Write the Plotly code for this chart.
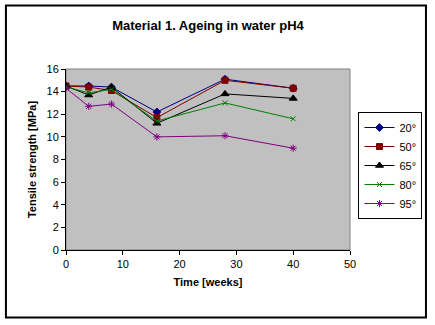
import plotly.graph_objects as go

weeks = [0, 4, 8, 16, 28, 40]
s20 = [14.5, 14.5, 14.4, 12.2, 15.1, 14.3]
s50 = [14.5, 14.4, 14.1, 11.7, 15.0, 14.3]
s65 = [14.5, 13.7, 14.4, 11.2, 13.8, 13.4]
s80 = [14.4, 13.9, 14.2, 11.4, 13.0, 11.6]
s95 = [14.3, 12.7, 12.9, 10.0, 10.1, 9.0]

names = ["20°", "50°", "65°", "80°", "95°"]
series = [s20, s50, s65, s80, s95]
colors = ["#000080", "#800000", "#000000", "#008000", "#800080"]
symbols = ["diamond", "square", "triangle-up", "x-thin-open", "asterisk-open"]
msizes = [6, 6, 7, 5, 6]

FONT = "Arial, Liberation Sans, sans-serif"

fig = go.Figure()
for n, ys, c, s, ms in zip(names, series, colors, symbols, msizes):
    fig.add_trace(go.Scatter(
        x=weeks, y=ys, name=n, mode="lines+markers",
        line=dict(color=c, width=1),
        marker=dict(symbol=s, color=c, size=ms, line=dict(color=c, width=1)),
    ))

L, R, T, B = 66, 352, 69, 250
W, H = 435, 325

def px_x(p):
    return (p - L) / (R - L)

def px_y(p):
    return (B - p) / (B - T)

# outer chart frame
fig.add_shape(type="rect", xref="paper", yref="paper",
              x0=px_x(5.5), x1=px_x(428.5), y0=px_y(317.5), y1=px_y(5.5),
              line=dict(color="black", width=2), layer="below")
# plot area border
fig.add_shape(type="rect", xref="paper", yref="paper",
              x0=0, x1=1, y0=0, y1=1,
              line=dict(color="#808080", width=1), layer="below")

fig.update_layout(
    width=W, height=H,
    margin=dict(l=L, r=W - R, t=T, b=H - B),
    paper_bgcolor="white",
    plot_bgcolor="#C0C0C0",
    font=dict(family=FONT, size=11, color="black"),
    title=dict(text="<b>Material 1. Ageing in water pH4</b>",
               font=dict(family=FONT, size=13, color="black"),
               x=0.5, xanchor="center", xref="paper",
               y=1 - 25 / H, yanchor="middle"),
    showlegend=True,
    legend=dict(x=px_x(425), y=px_y(112), xanchor="right", yanchor="top",
                bgcolor="white", bordercolor="black", borderwidth=1,
                font=dict(family=FONT, size=11, color="black"),
                itemwidth=30, tracegroupgap=0),
    xaxis=dict(range=[0, 50], dtick=10, showgrid=False, zeroline=False,
               showline=True, linecolor="black", linewidth=1,
               ticks="outside", ticklen=4, tickcolor="black",
               title=dict(text="<b>Time [weeks]</b>", font=dict(family=FONT, size=11), standoff=9)),
    yaxis=dict(range=[0, 16], dtick=2, showgrid=False, zeroline=False,
               showline=True, linecolor="black", linewidth=1,
               ticks="outside", ticklen=4, tickcolor="black",
               title=dict(text="<b>Tensile strength [MPa]</b>", font=dict(family=FONT, size=11), standoff=7)),
)

fig.write_html("out.html")
